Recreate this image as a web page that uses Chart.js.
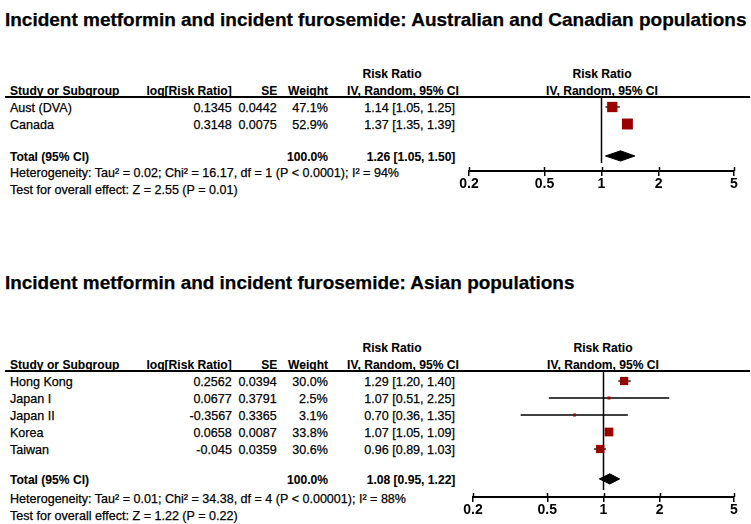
<!DOCTYPE html>
<html>
<head>
<meta charset="utf-8">
<script src="https://cdn.jsdelivr.net/npm/chart.js@4.4.1/dist/chart.umd.min.js"></script>
<style>
  body { margin: 0; background: #fff; }
  #page { position: relative; width: 751px; height: 524px; overflow: hidden; font-family: Arial, "Liberation Sans", sans-serif; color: #000; }
  .t { position: absolute; white-space: nowrap; font-size: 13px; line-height: 13px; -webkit-text-stroke: 0.25px #000; }
  .b { font-weight: bold; -webkit-text-stroke: 0.1px #000; }
  .title { font-size: 19px; line-height: 19px; font-weight: bold; }
  .rule { position: absolute; left: 5px; width: 745px; height: 2px; background: #000; }
  canvas { position: absolute; }
</style>
</head>
<body>
<div id="page"></div>
<script>
// panel 1: Australian and Canadian populations
var p1Title = 'Incident metformin and incident furosemide: Australian and Canadian populations';
var p1Studies = ['Aust (DVA)', 'Canada'];
var p1LogRR = [0.1345, 0.3148];
var p1SE = [0.0442, 0.0075];
var p1Weight = [47.1, 52.9];
var p1RR = [1.14, 1.37];
var p1Lo = [1.05, 1.35];
var p1Hi = [1.25, 1.39];
var p1Total = [1.26, 1.05, 1.50];
var p1Het = 'Heterogeneity: Tau² = 0.02; Chi² = 16.17, df = 1 (P < 0.0001); I² = 94%';
var p1Test = 'Test for overall effect: Z = 2.55 (P = 0.01)';

// panel 2: Asian populations
var p2Title = 'Incident metformin and incident furosemide: Asian populations';
var p2Studies = ['Hong Kong', 'Japan I', 'Japan II', 'Korea', 'Taiwan'];
var p2LogRR = [0.2562, 0.0677, -0.3567, 0.0658, -0.045];
var p2SE = [0.0394, 0.3791, 0.3365, 0.0087, 0.0359];
var p2Weight = [30.0, 2.5, 3.1, 33.8, 30.6];
var p2RR = [1.29, 1.07, 0.70, 1.07, 0.96];
var p2Lo = [1.20, 0.51, 0.36, 1.05, 0.89];
var p2Hi = [1.40, 2.25, 1.35, 1.09, 1.03];
var p2Total = [1.08, 0.95, 1.22];
var p2Het = 'Heterogeneity: Tau² = 0.01; Chi² = 34.38, df = 4 (P < 0.00001); I² = 88%';
var p2Test = 'Test for overall effect: Z = 1.22 (P = 0.22)';

var xTicks = [0.2, 0.5, 1, 2, 5];

var page = document.getElementById('page');
var ROW = 17;
var SX_B = 0.93;   // bold text squeeze
var SX_R = 0.965;  // regular text squeeze
var FONT = 'Arial, "Liberation Sans", sans-serif';

function addText(txt, x, y, align, cls, sx) {
  var el = document.createElement('div');
  el.className = 't ' + (cls || '');
  el.textContent = txt;
  el.style.top = y + 'px';
  sx = sx || (cls ? SX_B : SX_R);
  if (align === 'right') {
    el.style.right = (751 - x) + 'px';
    el.style.transformOrigin = '100% 50%';
    el.style.transform = 'translateY(-50%) scaleX(' + sx + ')';
  } else if (align === 'center') {
    el.style.left = x + 'px';
    el.style.transformOrigin = '50% 50%';
    el.style.transform = 'translate(-50%,-50%) scaleX(' + sx + ')';
  } else {
    el.style.left = x + 'px';
    el.style.transformOrigin = '0 50%';
    el.style.transform = 'translateY(-50%) scaleX(' + sx + ')';
  }
  page.appendChild(el);
  return el;
}

function ci(v, lo, hi) {
  return v.toFixed(2) + ' [' + lo.toFixed(2) + ', ' + hi.toFixed(2) + ']';
}

function drawPanel(p) {
  var n = p.studies.length;
  // title, fitted to its width in the picture
  var tt = addText(p.title, 5, p.titleY, 'left', 'title', 1);
  tt.style.transform = 'translateY(-50%) scaleX(' + (p.titleW / tt.offsetWidth) + ')';

  var L = p.lineY;
  var rule = document.createElement('div');
  rule.className = 'rule';
  rule.style.top = (L - 1) + 'px';
  page.appendChild(rule);

  // column headers
  addText('Risk Ratio', 392, L - 24, 'center', 'b');
  addText('IV, Random, 95% CI', 403, L - 7, 'center', 'b');
  addText('Study or Subgroup', 10, L - 7, 'left', 'b');
  addText('log[Risk Ratio]', 232, L - 7, 'right', 'b');
  addText('SE', 277, L - 7, 'right', 'b');
  addText('Weight', 328, L - 7, 'right', 'b');
  addText('Risk Ratio', p.cx, L - 24, 'center', 'b');
  addText('IV, Random, 95% CI', p.cx, L - 7, 'center', 'b');

  var y0 = L + 10;
  for (var i = 0; i < n; i++) {
    var y = y0 + i * ROW;
    addText(p.studies[i], 10, y, 'left');
    addText(String(p.logRR[i]), 232, y, 'right');
    addText(String(p.se[i]), 277, y, 'right');
    addText(p.weight[i].toFixed(1) + '%', 328, y, 'right');
    addText(ci(p.rr[i], p.lo[i], p.hi[i]), 455, y, 'right');
  }
  var totalRow = n - 1 + p.totalGap;
  var axisRow = totalRow + p.axisGap;
  var ty = y0 + totalRow * ROW;
  addText('Total (95% CI)', 10, ty, 'left', 'b');
  addText('100.0%', 328, ty, 'right', 'b');
  addText(ci(p.total[0], p.total[1], p.total[2]), 455, ty, 'right', 'b');
  var hy = y0 + axisRow * ROW + 1;
  addText(p.het, 10, hy, 'left');
  addText(p.test, 10, hy + ROW, 'left');

  // forest plot
  var cvLeft = 440, cvW = 311;
  var yMin = -10 / ROW;
  var cvH = Math.round((axisRow + 1.45 - yMin) * ROW);
  var yMax = yMin + cvH / ROW;
  var cv = document.createElement('canvas');
  cv.width = cvW; cv.height = cvH;
  cv.style.left = cvLeft + 'px';
  cv.style.top = L + 'px';
  page.appendChild(cv);

  var datasets = [];
  datasets.push({
    data: [{ x: 1, y: yMin }, { x: 1, y: totalRow + p.refGap }],
    showLine: true, borderColor: '#000', borderWidth: 1.5, pointRadius: 0, order: 3
  });
  for (var j = 0; j < n; j++) {
    datasets.push({
      data: [{ x: p.lo[j], y: j }, { x: p.hi[j], y: j }],
      showLine: true, borderColor: '#000', borderWidth: 1.3, pointRadius: 0, order: 2
    });
  }
  datasets.push({
    data: p.rr.map(function (v, k) { return { x: v, y: k }; }),
    pointStyle: 'rect',
    pointRadius: p.weight.map(function (w) { return Math.max(3, 1.5 * Math.sqrt(w)) / Math.SQRT2; }),
    backgroundColor: '#990000', borderWidth: 0, order: 0
  });
  var dh = 0.3;
  datasets.push({
    data: [
      { x: p.total[1], y: totalRow }, { x: p.total[0], y: totalRow - dh },
      { x: p.total[2], y: totalRow }, { x: p.total[0], y: totalRow + dh },
      { x: p.total[1], y: totalRow }
    ],
    showLine: true, fill: 'shape', backgroundColor: '#000', borderColor: '#000',
    borderWidth: 1, pointRadius: 0, order: 1
  });

  var tickUp = {
    id: 'tickUp',
    afterDraw: function (chart) {
      var xs = chart.scales.x, ys = chart.scales.y;
      var ay = Math.round(ys.getPixelForValue(axisRow));
      var c = chart.ctx;
      c.save();
      c.strokeStyle = '#000';
      c.lineWidth = 1.5;
      xTicks.forEach(function (v) {
        var px = Math.round(xs.getPixelForValue(v)) + 0.5;
        c.beginPath();
        c.moveTo(px, ay - 4);
        c.lineTo(px, ay);
        c.stroke();
      });
      c.restore();
    }
  };

  new Chart(cv.getContext('2d'), {
    type: 'scatter',
    data: { datasets: datasets },
    options: {
      responsive: false,
      animation: false,
      clip: false,
      layout: { autoPadding: false, padding: { left: p.ax0 - cvLeft, right: cvLeft + cvW - p.ax1, top: 0, bottom: 0 } },
      plugins: { legend: { display: false }, tooltip: { enabled: false } },
      scales: {
        x: {
          type: 'logarithmic', min: 0.2, max: 5,
          position: { y: axisRow },
          afterBuildTicks: function (s) { s.ticks = xTicks.map(function (v) { return { value: v }; }); },
          ticks: {
            callback: function (v) { return String(v); },
            font: { family: FONT, size: 14, weight: 'bold' },
            color: '#000', padding: 1, autoSkip: false, maxRotation: 0
          },
          grid: { drawOnChartArea: false, drawTicks: true, tickLength: 4, color: '#000', lineWidth: 1.5 },
          border: { display: true, color: '#000', width: 2 }
        },
        y: { type: 'linear', reverse: true, min: yMin, max: yMax, display: false }
      }
    },
    plugins: [tickUp]
  });
}

drawPanel({
  title: p1Title, titleY: 19, titleW: 741, lineY: 97,
  studies: p1Studies, logRR: p1LogRR, se: p1SE, weight: p1Weight,
  rr: p1RR, lo: p1Lo, hi: p1Hi, total: p1Total, het: p1Het, test: p1Test,
  totalGap: 1.88, axisGap: 0.88, refGap: 0.42, ax0: 469, ax1: 734, cx: 602
});
drawPanel({
  title: p2Title, titleY: 282, titleW: 569, lineY: 371,
  studies: p2Studies, logRR: p2LogRR, se: p2SE, weight: p2Weight,
  rr: p2RR, lo: p2Lo, hi: p2Hi, total: p2Total, het: p2Het, test: p2Test,
  totalGap: 1.76, axisGap: 1.06, refGap: 0.65, ax0: 473, ax1: 734, cx: 603
});
</script>
</body>
</html>
